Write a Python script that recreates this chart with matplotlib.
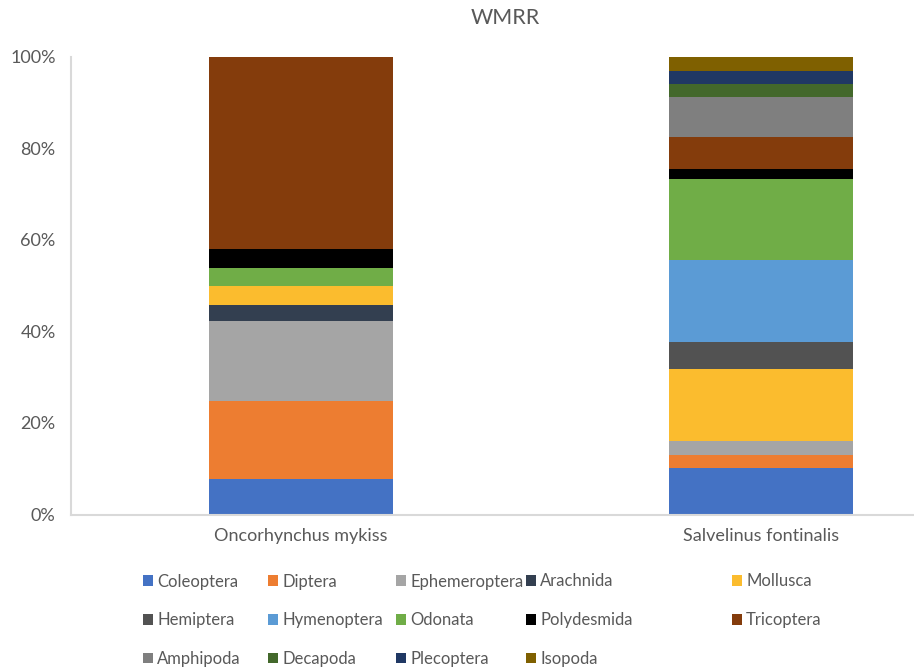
import numpy as np
import matplotlib.pyplot as plt
from matplotlib.patches import Patch

plt.rcParams['font.family'] = ['Lato', 'DejaVu Sans']

species = ['Oncorhynchus mykiss', 'Salvelinus fontinalis']
taxa = ['Coleoptera', 'Diptera', 'Ephemeroptera', 'Arachnida', 'Mollusca',
        'Hemiptera', 'Hymenoptera', 'Odonata', 'Polydesmida', 'Tricoptera',
        'Amphipoda', 'Decapoda', 'Plecoptera', 'Isopoda']

# percent of diet per taxon, one column per fish species
mykiss = [7.8, 17.0, 17.4, 3.5, 4.1, 0.0, 0.0, 4.0, 4.2, 42.0, 0.0, 0.0, 0.0, 0.0]
fontinalis = [10.1, 2.9, 3.0, 0.0, 15.7, 5.9, 18.0, 17.6, 2.3, 7.0, 8.7, 2.9, 2.8, 3.1]

colors = ['#4472C4', '#ED7D31', '#A5A5A5', '#333F50', '#FBBC2E',
          '#525252', '#5B9BD5', '#70AD47', '#000000', '#843C0C',
          '#7F7F7F', '#43682B', '#203864', '#7F6000']

txt = '#595959'

fig = plt.figure(figsize=(9.14, 6.68), dpi=100)
W, H = 914, 668
# axes runs past the right edge of the figure
ax = fig.add_axes([71 / W, 1 - 514.5 / H, 920 / W, 458 / H])

vals = np.array([mykiss, fontinalis])
x = np.arange(len(species))
bottom = np.zeros(len(species))
for i, t in enumerate(taxa):
    ax.bar(x, vals[:, i], bottom=bottom, width=0.4, color=colors[i], label=t)
    bottom += vals[:, i]

ax.set_xlim(-0.5, 1.5)
ax.set_ylim(0, 100)
ax.set_yticks(np.arange(0, 101, 20))
ax.set_yticklabels([f'{v}%' for v in range(0, 101, 20)])
ax.set_xticks(x)
ax.set_xticklabels(species)
ax.tick_params(axis='both', length=0, labelsize=13, labelcolor=txt)
ax.tick_params(axis='y', pad=11)
ax.tick_params(axis='x', pad=10)
for s in ['top', 'right']:
    ax.spines[s].set_visible(False)
for s in ['left', 'bottom']:
    ax.spines[s].set_color('#D9D9D9')
    ax.spines[s].set_linewidth(1.5)

fig.text(505 / W, 1 - 18 / H, 'WMRR', ha='center', va='center', fontsize=15.5, color=txt)

# legend laid out in five columns
col_x = [143, 268, 396, 526, 732]
for c in range(5):
    idx = [c, c + 5, c + 10]
    idx = [i for i in idx if i < len(taxa)]
    handles = [Patch(facecolor=colors[i]) for i in idx]
    fig.legend(handles, [taxa[i] for i in idx], loc='upper left',
               bbox_to_anchor=(col_x[c] / W, 1 - 573.5 / H), frameon=False,
               fontsize=12, labelcolor=txt, handlelength=0.6, handleheight=0.6,
               handletextpad=0.25, borderpad=0, borderaxespad=0, labelspacing=1.36)

fig.savefig('out.png', dpi=100)
